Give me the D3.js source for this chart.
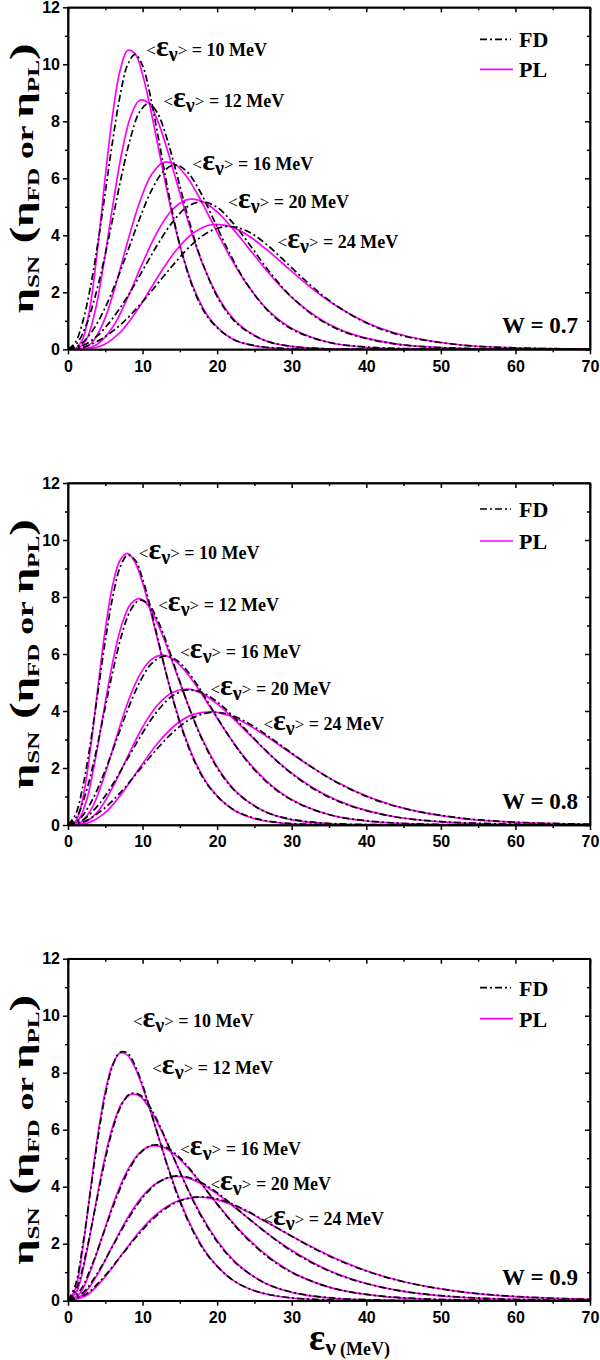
<!DOCTYPE html>
<html>
<head>
<meta charset="utf-8">
<style>
  body { margin: 0; background: #fff; }
  svg { display: block; }
  .tick text { font: bold 16px "Liberation Sans", Arial, sans-serif; fill: #000; }
  .tick line, .domain { stroke: #000; stroke-width: 1.5; }
  .serif { font-family: "Liberation Serif", "Times New Roman", serif; font-weight: bold; fill: #000; }
</style>
</head>
<body>
<script src="https://cdn.jsdelivr.net/npm/d3@7"></script>
<script>

// mean neutrino energies (MeV) of the five curve pairs
var meanE = [10, 12, 16, 20, 24];
var wValues = ["0.7", "0.8", "0.9"];

// energy sample points (MeV), one row per mean energy
var xGrid = [
  [0,1,2,3,4,5,6,7,8,9,10,11,12,13.5,15,17,19,22,25,29,35,45,70],
  [0,1.2,2.4,3.6,4.8,6,7.2,8.4,9.6,10.8,12,13.2,14.4,16.2,18,20.4,22.8,26.4,30,34.8,42,54,84],
  [0,1.6,3.2,4.8,6.4,8,9.6,11.2,12.8,14.4,16,17.6,19.2,21.6,24,27.2,30.4,35.2,40,46.4,56,72,112],
  [0,2,4,6,8,10,12,14,16,18,20,22,24,27,30,34,38,44,50,58,70,90,140],
  [0,2.4,4.8,7.2,9.6,12,14.4,16.8,19.2,21.6,24,26.4,28.8,32.4,36,40.8,45.6,52.8,60,69.6,84,108,168]
];

// W = 0.7
var fd07 = [
  [0,0.25,0.99,2.17,3.72,5.51,7.33,8.92,9.99,10.35,9.95,8.94,7.59,5.46,3.66,2.00,1.04,0.37,0.13,0.03,0,0,0],
  [0,0.21,0.82,1.81,3.10,4.59,6.11,7.43,8.33,8.63,8.29,7.45,6.33,4.55,3.05,1.67,0.87,0.31,0.10,0.02,0,0,0],
  [0,0.16,0.62,1.36,2.33,3.44,4.58,5.58,6.24,6.47,6.22,5.59,4.74,3.41,2.29,1.25,0.65,0.23,0.08,0.02,0,0,0],
  [0,0.13,0.49,1.09,1.86,2.76,3.67,4.46,5.00,5.18,4.98,4.47,3.80,2.73,1.83,1.00,0.52,0.18,0.06,0.01,0,0,0],
  [0,0.10,0.41,0.90,1.55,2.30,3.05,3.72,4.16,4.31,4.15,3.73,3.16,2.28,1.53,0.83,0.43,0.15,0.05,0.01,0,0,0]
];
var pl07 = [
  [0,0.02,0.38,1.56,3.61,6.05,8.26,9.80,10.49,10.37,9.64,8.52,7.23,5.29,3.64,2.05,1.08,0.37,0.12,0.02,0,0,0],
  [0,0.02,0.31,1.30,3.01,5.04,6.88,8.17,8.74,8.64,8.03,7.10,6.03,4.41,3.03,1.71,0.90,0.31,0.10,0.02,0,0,0],
  [0,0.01,0.23,0.98,2.26,3.78,5.16,6.13,6.56,6.48,6.03,5.33,4.52,3.31,2.28,1.28,0.68,0.23,0.07,0.01,0,0,0],
  [0,0.01,0.19,0.78,1.81,3.03,4.13,4.90,5.25,5.19,4.82,4.26,3.62,2.65,1.82,1.03,0.54,0.19,0.06,0.01,0,0,0],
  [0,0.01,0.16,0.65,1.50,2.52,3.44,4.08,4.37,4.32,4.02,3.55,3.01,2.20,1.52,0.85,0.45,0.15,0.05,0.01,0,0,0]
];

// W = 0.8
var fd08 = [
  [0,0.36,1.36,2.86,4.65,6.46,8.00,9.05,9.47,9.30,8.64,7.69,6.59,4.98,3.59,2.21,1.31,0.57,0.24,0.07,0.01,0,0],
  [0,0.30,1.13,2.38,3.88,5.38,6.67,7.54,7.89,7.75,7.20,6.41,5.49,4.15,2.99,1.84,1.09,0.47,0.20,0.06,0.01,0,0],
  [0,0.22,0.85,1.79,2.91,4.04,5.00,5.66,5.92,5.81,5.40,4.81,4.12,3.11,2.24,1.38,0.82,0.35,0.15,0.04,0.01,0,0],
  [0,0.18,0.68,1.43,2.33,3.23,4.00,4.53,4.74,4.65,4.32,3.85,3.30,2.49,1.80,1.11,0.66,0.28,0.12,0.04,0.01,0,0],
  [0,0.15,0.57,1.19,1.94,2.69,3.33,3.77,3.95,3.88,3.60,3.20,2.75,2.08,1.50,0.92,0.55,0.24,0.10,0.03,0,0,0]
];
var pl08 = [
  [0,0.12,0.95,2.65,4.80,6.86,8.42,9.30,9.53,9.21,8.50,7.56,6.52,4.98,3.63,2.26,1.33,0.56,0.22,0.06,0.01,0,0],
  [0,0.10,0.79,2.21,4.00,5.72,7.02,7.75,7.94,7.68,7.08,6.30,5.43,4.15,3.03,1.88,1.11,0.47,0.18,0.05,0.01,0,0],
  [0,0.07,0.59,1.66,3.00,4.29,5.26,5.81,5.96,5.76,5.31,4.73,4.08,3.11,2.27,1.41,0.83,0.35,0.14,0.04,0,0,0],
  [0,0.06,0.47,1.33,2.40,3.43,4.21,4.65,4.77,4.61,4.25,3.78,3.26,2.49,1.82,1.13,0.67,0.28,0.11,0.03,0,0,0],
  [0,0.05,0.39,1.10,2.00,2.86,3.51,3.88,3.97,3.84,3.54,3.15,2.72,2.08,1.51,0.94,0.55,0.23,0.09,0.02,0,0,0]
];

// W = 0.9
var fd09 = [
  [0,0.56,1.98,3.83,5.68,7.22,8.25,8.72,8.68,8.25,7.57,6.73,5.86,4.59,3.48,2.32,1.50,0.74,0.35,0.13,0.03,0,0],
  [0,0.47,1.65,3.19,4.73,6.02,6.88,7.27,7.23,6.88,6.31,5.61,4.88,3.83,2.90,1.93,1.25,0.62,0.30,0.11,0.02,0,0],
  [0,0.35,1.24,2.39,3.55,4.51,5.16,5.45,5.43,5.16,4.73,4.21,3.66,2.87,2.18,1.45,0.94,0.46,0.22,0.08,0.02,0,0],
  [0,0.28,0.99,1.92,2.84,3.61,4.13,4.36,4.34,4.13,3.79,3.37,2.93,2.30,1.74,1.16,0.75,0.37,0.18,0.06,0.01,0,0],
  [0,0.23,0.83,1.60,2.37,3.01,3.44,3.63,3.62,3.44,3.15,2.80,2.44,1.91,1.45,0.97,0.63,0.31,0.15,0.05,0.01,0,0]
];
var pl09 = [
  [0,0.42,1.88,3.87,5.82,7.34,8.30,8.69,8.61,8.17,7.50,6.70,5.86,4.62,3.53,2.36,1.52,0.74,0.35,0.12,0.02,0,0],
  [0,0.35,1.57,3.23,4.85,6.12,6.92,7.24,7.18,6.81,6.25,5.58,4.88,3.85,2.94,1.97,1.27,0.62,0.29,0.10,0.02,0,0],
  [0,0.26,1.18,2.42,3.64,4.59,5.19,5.43,5.38,5.11,4.69,4.19,3.66,2.89,2.21,1.48,0.95,0.46,0.22,0.07,0.01,0,0],
  [0,0.21,0.94,1.94,2.91,3.67,4.15,4.35,4.31,4.09,3.75,3.35,2.93,2.31,1.77,1.18,0.76,0.37,0.17,0.06,0.01,0,0],
  [0,0.17,0.78,1.61,2.43,3.06,3.46,3.62,3.59,3.40,3.13,2.79,2.44,1.93,1.47,0.98,0.63,0.31,0.14,0.05,0.01,0,0]
];

var fdSets = [fd07, fd08, fd09];
var plSets = [pl07, pl08, pl09];

// label anchors [MeV, eta] for the <E> annotations in each panel
var labelPos = [
  [[10.5,10.3],[12.8,8.5],[16.7,6.3],[21.5,4.95],[28.1,3.55]],
  [[9.5,9.35],[12.1,7.5],[15.05,5.85],[19.1,4.55],[26.2,3.35]],
  [[8.7,9.6],[11.3,7.95],[15.05,5.1],[19.1,3.9],[26.2,2.65]]
];

var xMajor = [0,10,20,30,40,50,60,70];
var xMinor = [5,15,25,35,45,55,65];
var yMajor = [0,2,4,6,8,10,12];
var yMinor = [1,3,5,7,9,11];

var svg = d3.select("body").append("svg")
  .attr("width", 600).attr("height", 1360);

var left = 68, right = 590, ph = 342;
var panelTop = [7.3, 483, 958.7];
var legendY = [[37, 67], [31, 63], [34, 65]];
var fdDash = "7,3,2,3";

var x = d3.scaleLinear().domain([0, 70]).range([left, right]);

panelTop.forEach(function(top, i) {
  var bottom = top + ph;
  var y = d3.scaleLinear().domain([0, 12]).range([bottom, top]);
  var g = svg.append("g");

  g.append("clipPath").attr("id", "clip" + i)
    .append("rect").attr("x", left).attr("y", top)
    .attr("width", right - left).attr("height", ph);

  // axes
  g.append("g").attr("transform", "translate(0," + bottom + ")")
    .call(d3.axisBottom(x).tickValues(xMajor).tickSize(5).tickPadding(6).tickSizeOuter(0));
  g.append("g").attr("transform", "translate(0," + bottom + ")")
    .call(d3.axisBottom(x).tickValues(xMinor).tickSize(3).tickFormat("").tickSizeOuter(0));
  g.append("g").attr("transform", "translate(0," + top + ")")
    .call(d3.axisTop(x).tickValues(xMajor).tickSize(-5).tickFormat("").tickSizeOuter(0));
  g.append("g").attr("transform", "translate(0," + top + ")")
    .call(d3.axisTop(x).tickValues(xMinor).tickSize(-3).tickFormat("").tickSizeOuter(0));
  g.append("g").attr("transform", "translate(" + left + ",0)")
    .call(d3.axisLeft(y).tickValues(yMajor).tickSize(5).tickPadding(3).tickSizeOuter(0));
  g.append("g").attr("transform", "translate(" + left + ",0)")
    .call(d3.axisLeft(y).tickValues(yMinor).tickSize(3).tickFormat("").tickSizeOuter(0));
  g.append("g").attr("transform", "translate(" + right + ",0)")
    .call(d3.axisRight(y).tickValues(yMajor).tickSize(-5).tickFormat("").tickSizeOuter(0));
  g.append("g").attr("transform", "translate(" + right + ",0)")
    .call(d3.axisRight(y).tickValues(yMinor).tickSize(-3).tickFormat("").tickSizeOuter(0));

  var line = d3.line()
    .x(function(d) { return x(d[0]); })
    .y(function(d) { return y(d[1]); })
    .curve(d3.curveCatmullRom.alpha(0.5));

  var curves = g.append("g").attr("clip-path", "url(#clip" + i + ")");
  meanE.forEach(function(e, k) {
    curves.append("path")
      .attr("d", line(d3.zip(xGrid[k], plSets[i][k])))
      .attr("fill", "none").attr("stroke", "#ff00ff").attr("stroke-width", 1.7);
  });
  meanE.forEach(function(e, k) {
    curves.append("path")
      .attr("d", line(d3.zip(xGrid[k], fdSets[i][k])))
      .attr("fill", "none").attr("stroke", "#000").attr("stroke-width", 1.7)
      .attr("stroke-dasharray", fdDash);
  });

  // energy labels
  meanE.forEach(function(e, k) {
    var t = g.append("text").attr("class", "serif")
      .attr("x", x(labelPos[i][k][0])).attr("y", y(labelPos[i][k][1]));
    t.append("tspan").attr("font-size", 17).attr("font-weight", "normal").text("<");
    t.append("tspan").attr("font-size", 30).text("\u03b5");
    t.append("tspan").attr("font-size", 20).attr("dy", 5).text("\u03bd");
    t.append("tspan").attr("font-size", 17).attr("font-weight", "normal").attr("dy", -5).text(">");
    t.append("tspan").attr("font-size", 18).text(" = " + e + " MeV");
  });

  // frame
  g.append("rect").attr("x", left).attr("y", top)
    .attr("width", right - left).attr("height", ph)
    .attr("fill", "none").attr("stroke", "#000").attr("stroke-width", 1.5);

  // legend
  var ly = legendY[i];
  g.append("line").attr("x1", 480).attr("x2", 511)
    .attr("y1", top + ly[0] - 5).attr("y2", top + ly[0] - 5)
    .attr("stroke", "#000").attr("stroke-width", 1.7).attr("stroke-dasharray", fdDash);
  g.append("text").attr("class", "serif").attr("font-size", 22)
    .attr("x", 519).attr("y", top + ly[0] + 3).text("FD");
  g.append("line").attr("x1", 480).attr("x2", 513)
    .attr("y1", top + ly[1] - 5).attr("y2", top + ly[1] - 5)
    .attr("stroke", "#ff00ff").attr("stroke-width", 1.7);
  g.append("text").attr("class", "serif").attr("font-size", 22)
    .attr("x", 519).attr("y", top + ly[1] + 3).text("PL");

  g.append("text").attr("class", "serif").attr("font-size", 23)
    .attr("text-anchor", "end").attr("x", 578).attr("y", bottom - 16)
    .text("W = " + wValues[i]);

  // y-axis title
  var yt = g.append("text").attr("class", "serif")
    .attr("text-anchor", "middle")
    .attr("transform", "translate(33," + ((top + bottom) / 2) + ") rotate(-90)")
    .attr("textLength", 270).attr("lengthAdjust", "spacingAndGlyphs");
  yt.append("tspan").attr("font-size", 30).text("\u03b7");
  yt.append("tspan").attr("font-size", 17).attr("dy", 6).text("SN");
  yt.append("tspan").attr("font-size", 34).attr("dy", -6).text(" (");
  yt.append("tspan").attr("font-size", 30).text("\u03b7");
  yt.append("tspan").attr("font-size", 17).attr("dy", 6).text("FD");
  yt.append("tspan").attr("font-size", 24).attr("dy", -6).text(" or ");
  yt.append("tspan").attr("font-size", 30).text("\u03b7");
  yt.append("tspan").attr("font-size", 17).attr("dy", 6).text("PL");
  yt.append("tspan").attr("font-size", 34).attr("dy", -6).text(")");
});

// x-axis title (bottom panel only)
var xt = svg.append("text").attr("class", "serif")
  .attr("x", 309).attr("y", 1350);
xt.append("tspan").attr("font-size", 38).text("\u03b5");
xt.append("tspan").attr("font-size", 24).attr("dy", 5).text("\u03bd");
xt.append("tspan").attr("font-size", 18).attr("dx", 4).text("(MeV)");

</script>
</body>
</html>
